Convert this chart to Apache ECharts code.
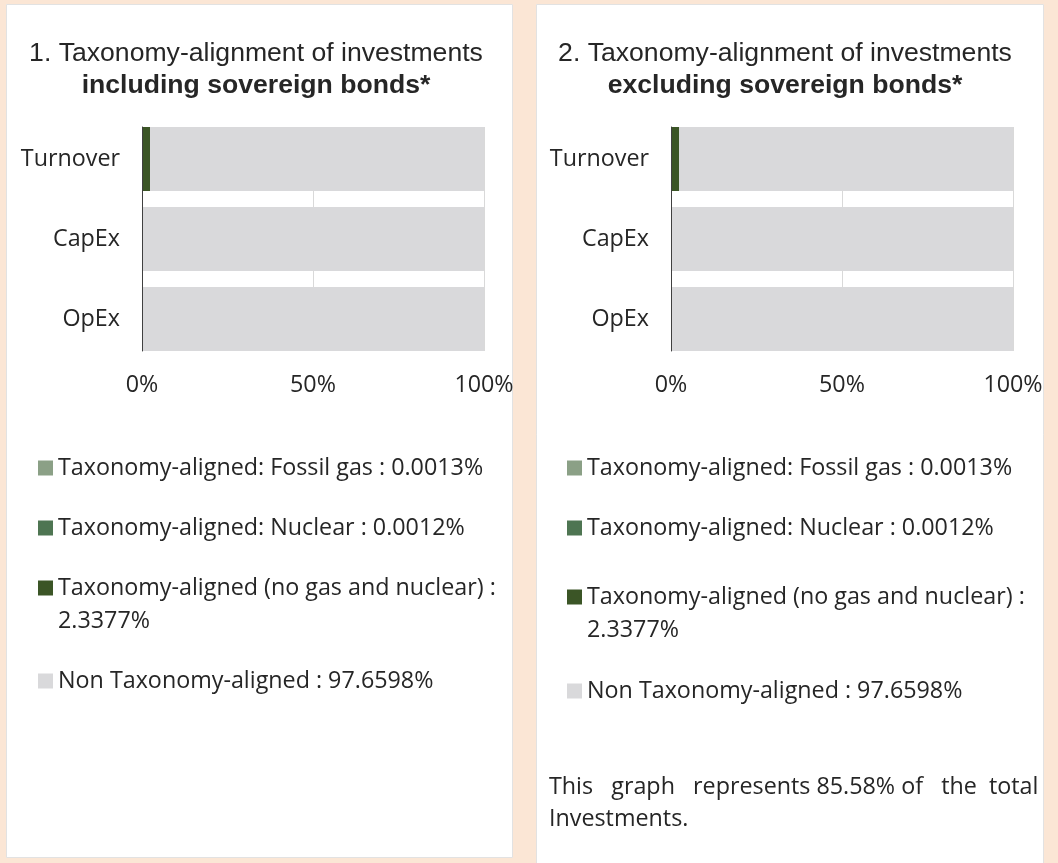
<!DOCTYPE html>
<html>
<head>
<meta charset="utf-8">
<script src="https://cdn.jsdelivr.net/npm/echarts@6/dist/echarts.min.js"></script>
<style>
html,body{margin:0;padding:0;background:#FBE6D5;}
#c{width:1058px;height:863px;}
</style>
</head>
<body>
<div id="c"></div>
<script>
// ---------- data ----------
const categories = ['Turnover', 'CapEx', 'OpEx'];
const seriesNames = [
  'Taxonomy-aligned: Fossil gas',
  'Taxonomy-aligned: Nuclear',
  'Taxonomy-aligned (no gas and nuclear)',
  'Non Taxonomy-aligned'
];
const legendValues = [0.0013, 0.0012, 2.3377, 97.6598];

// 1. including sovereign bonds
const incFossilGas   = [0.0013, 0, 0];
const incNuclear     = [0.0012, 0, 0];
const incAligned     = [2.3377, 0, 0];
const incNonAligned  = [97.6598, 100, 100];

// 2. excluding sovereign bonds
const excFossilGas   = [0.0013, 0, 0];
const excNuclear     = [0.0012, 0, 0];
const excAligned     = [2.3377, 0, 0];
const excNonAligned  = [97.6598, 100, 100];

const xTickValues = [0, 50, 100];
const titleLine1 = ['1. Taxonomy-alignment of investments', '2. Taxonomy-alignment of investments'];
const titleLine2 = ['including sovereign bonds*', 'excluding sovereign bonds*'];
const graphShare = 85.58;

// ---------- style ----------
const colors = ['#8BA086', '#4E7552', '#3B5526', '#D9D9DB'];
const textColor = '#262626';
const bodyFont = '"Open Sans"';
const bodySize = 23.3;
const titleFont = '"Liberation Sans", Arial, sans-serif';
const panelX = [6, 536];
const panelW = [506, 507];
const off = [0, 529];
const legendTops = [[451.5, 511.5, 538.5, 664.5], [451.5, 511.5, 547.5, 674.5]];

const panels = [
  [incFossilGas, incNuclear, incAligned, incNonAligned],
  [excFossilGas, excNuclear, excAligned, excNonAligned]
];

const grids = [], xAxes = [], yAxes = [], series = [], legends = [], titles = [];

panels.forEach((vals, p) => {
  const o = off[p];
  // main grid with bars
  grids.push({left: 142 + o, top: 119, width: 342, height: 240});
  // overlay grid for axis line / split lines
  grids.push({left: 142 + o, top: 127, width: 342, height: 224});
  const gMain = p * 2, gOver = p * 2 + 1;

  xAxes.push({
    type: 'value', gridIndex: gMain, min: xTickValues[0], max: xTickValues[xTickValues.length - 1],
    interval: xTickValues[1] - xTickValues[0], show: false
  });
  xAxes.push({
    type: 'value', gridIndex: gOver, min: xTickValues[0], max: xTickValues[xTickValues.length - 1],
    interval: xTickValues[1] - xTickValues[0],
    axisLine: {show: false}, axisTick: {show: false},
    splitLine: {show: true, lineStyle: {color: '#D9D9D9', width: 1}},
    axisLabel: {formatter: '{value}%', fontFamily: bodyFont, fontSize: bodySize, color: textColor, margin: 23}
  });
  yAxes.push({
    type: 'category', gridIndex: gMain, data: categories, inverse: true,
    axisLine: {show: false}, axisTick: {show: false}, splitLine: {show: false},
    axisLabel: {fontFamily: bodyFont, fontSize: bodySize, color: textColor, margin: 22}
  });
  yAxes.push({
    type: 'category', gridIndex: gOver, data: categories, inverse: true, z: 10,
    axisLine: {show: true, lineStyle: {color: '#404040', width: 1}},
    axisTick: {show: false}, axisLabel: {show: false}, splitLine: {show: false}
  });

  seriesNames.forEach((name, i) => {
    series.push({
      name: name, type: 'bar', stack: 'p' + p,
      xAxisIndex: gMain, yAxisIndex: gMain,
      data: vals[i], barCategoryGap: '20%',
      itemStyle: {color: colors[i]},
      emphasis: {disabled: true}
    });
  });

  seriesNames.forEach((name, i) => {
    const v = legendValues[i].toFixed(4);
    legends.push({
      data: [name], left: 38 + o, top: legendTops[p][i], padding: 0,
      orient: 'vertical', icon: 'rect', itemWidth: 15, itemHeight: 15, itemGap: 0,
      selectedMode: false,
      formatter: () => i === 2
        ? '\u00a0\n' + name + ' :\n' + v + '%'
        : name + ' : ' + v + '%',
      textStyle: {fontFamily: bodyFont, fontSize: bodySize, color: textColor, lineHeight: 33}
    });
  });

  titles.push({
    text: titleLine1[p], subtext: titleLine2[p],
    left: 256 + o, top: 38, textAlign: 'center', padding: 0, itemGap: 0,
    textStyle: {fontFamily: titleFont, fontSize: 26.6, fontWeight: 'normal', color: textColor, lineHeight: 32},
    subtextStyle: {fontFamily: titleFont, fontSize: 26.6, fontWeight: 'bold', color: textColor, lineHeight: 32}
  });
});

const chart = echarts.init(document.getElementById('c'), null, {renderer: 'canvas'});
chart.setOption({
  backgroundColor: '#FBE6D5',
  animation: false,
  title: titles,
  grid: grids,
  xAxis: xAxes,
  yAxis: yAxes,
  legend: legends,
  series: series,
  graphic: {
    elements: [
      {type: 'rect', z: -10, shape: {x: panelX[0] + 0.5, y: 4.5, width: panelW[0], height: 853},
       style: {fill: '#FFFFFF', stroke: '#E2E2E2', lineWidth: 1}},
      {type: 'rect', z: -10, shape: {x: panelX[1] + 0.5, y: 4.5, width: panelW[1], height: 880},
       style: {fill: '#FFFFFF', stroke: '#E2E2E2', lineWidth: 1}},
      {type: 'text', left: 549, top: 771, z: 5,
       style: {text: 'This   graph   represents ' + graphShare.toFixed(2) + '% of   the  total\nInvestments.',
               fontFamily: bodyFont, fontSize: bodySize, fill: textColor, lineHeight: 32}}
    ]
  }
});
</script>
</body>
</html>
